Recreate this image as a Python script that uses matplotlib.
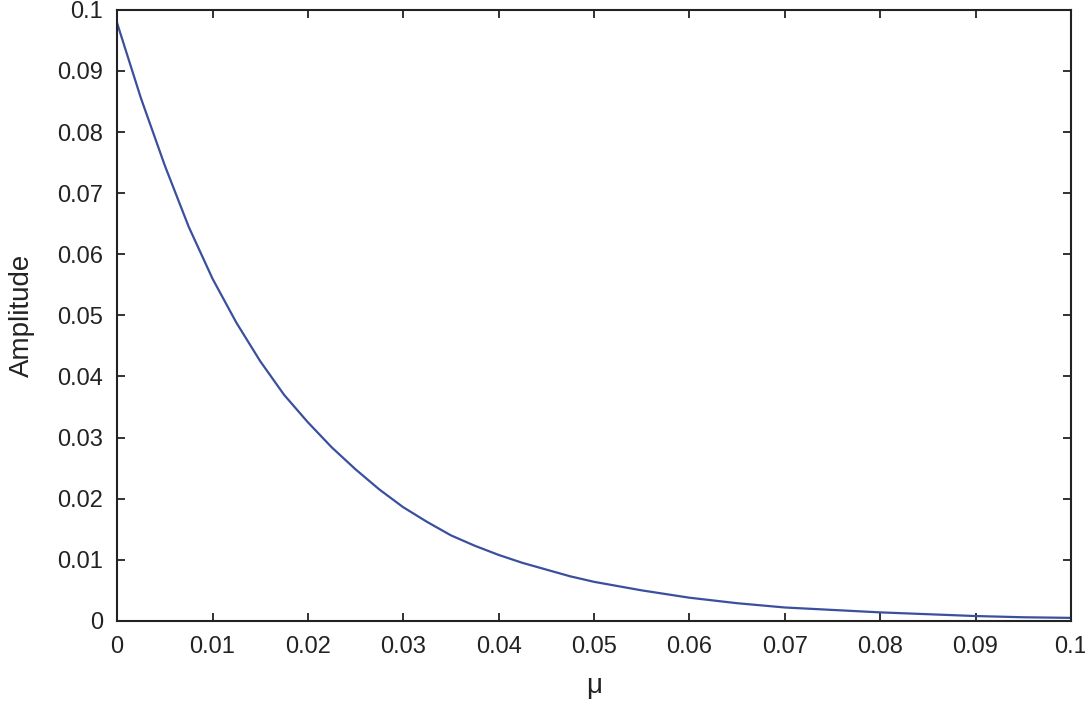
"""
Amplitude em função de mu: decaimento da amplitude (curva lida do gráfico original).
Saída: out.png
"""
import matplotlib
matplotlib.use("Agg")
import matplotlib.pyplot as plt

plt.rcParams["font.family"] = ["Liberation Sans", "DejaVu Sans"]

# valores
mu = [0.0, 0.0025, 0.005, 0.0075, 0.01, 0.0125, 0.015, 0.0175, 0.02, 0.0225,
      0.025, 0.0275, 0.03, 0.0325, 0.035, 0.0375, 0.04, 0.0425, 0.045, 0.0475,
      0.05, 0.055, 0.06, 0.065, 0.07, 0.075, 0.08, 0.085, 0.09, 0.095, 0.1]
amplitude = [0.0978, 0.0855, 0.0745, 0.0645, 0.0560, 0.0488, 0.0425, 0.0370, 0.0325, 0.0284,
             0.0248, 0.0215, 0.0186, 0.0162, 0.0140, 0.0123, 0.0108, 0.0095, 0.0084, 0.0073,
             0.0064, 0.0050, 0.0038, 0.0029, 0.0022, 0.0018, 0.0014, 0.0011, 0.0008, 0.0006, 0.0005]

x_ticks = [0, 0.01, 0.02, 0.03, 0.04, 0.05, 0.06, 0.07, 0.08, 0.09, 0.1]
y_ticks = [0, 0.01, 0.02, 0.03, 0.04, 0.05, 0.06, 0.07, 0.08, 0.09, 0.1]
tick_fmt = lambda v: "0" if v == 0 else ("0.1" if abs(v - 0.1) < 1e-9 else f"{v:.2f}")

fig, ax = plt.subplots(figsize=(10.85, 7.04), dpi=100)
fig.subplots_adjust(left=0.108, right=0.987, top=0.986, bottom=0.118)

ax.plot(mu, amplitude, color="#3a4f9e", lw=1.6)

ax.set_xlim(0, 0.1)
ax.set_ylim(0, 0.1)
ax.set_xticks(x_ticks)
ax.set_xticklabels([tick_fmt(v) for v in x_ticks])
ax.set_yticks(y_ticks)
ax.set_yticklabels([tick_fmt(v) for v in y_ticks])

for s in ax.spines.values():
    s.set_linewidth(1.5)
    s.set_color("#222222")
ax.tick_params(direction="in", length=6, width=1.3, color="#222222",
               top=True, right=True, labelsize=17, labelcolor="#222222")
ax.tick_params(axis="x", pad=11)
ax.tick_params(axis="y", pad=10)

ax.set_xlabel("μ", fontsize=20, color="#222222", labelpad=11)
ax.set_ylabel("Amplitude", fontsize=20, color="#222222", labelpad=16)

fig.savefig("out.png", dpi=100, facecolor="white")
plt.close(fig)
